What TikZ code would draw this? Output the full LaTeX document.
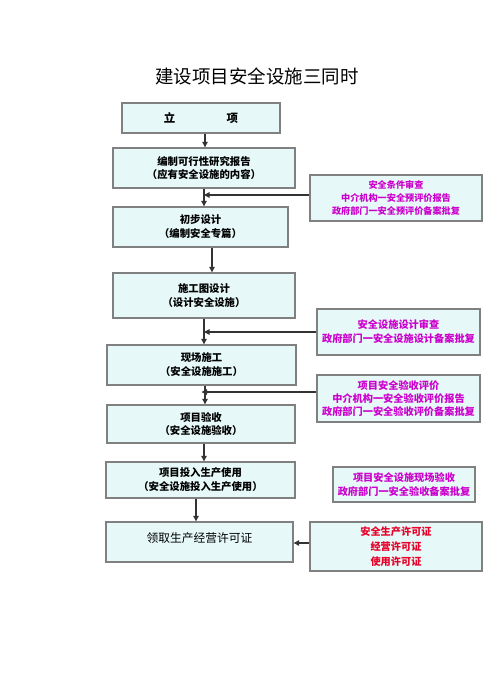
\documentclass[tikz,border=0pt]{standalone}
\usepackage{fontspec}
\setmainfont{Noto Sans CJK SC}
\usetikzlibrary{arrows.meta}

\definecolor{boxfill}{RGB}{230,248,248}
\definecolor{boxline}{RGB}{128,128,128}
\definecolor{notemag}{RGB}{204,0,204}
\definecolor{notered}{RGB}{232,0,40}

\begin{document}
\begin{tikzpicture}[x=0.02cm,y=-0.02cm,
    flowbox/.style={draw=boxline, fill=boxfill, line width=0.8pt, inner sep=0pt,
        align=center, font=\fontsize{5.9}{7.9}\selectfont\bfseries},
    notebox/.style={flowbox, text=notemag, font=\fontsize{5.2}{7.4}\selectfont\bfseries},
    flowarrow/.style={-{Triangle[length=1.1mm,width=1.1mm]}, line width=0.6pt, draw=black!80}]
    \useasboundingbox (0,0) rectangle (500,692);

    \node (title) at (257,76) {\fontsize{10.5}{12}\selectfont 建设项目安全设施三同时};

    % main steps
    \node [flowbox, minimum width=3.16cm, minimum height=0.6cm,
        font=\fontsize{6.5}{8}\selectfont\bfseries] (b1) at (201,118) {立\hspace{4.5em}项};
    \node [flowbox, minimum width=3.64cm, minimum height=0.8cm] (b2) at (204,168)
        {编制可行性研究报告\\（应有安全设施的内容）};
    \node [flowbox, minimum width=3.5cm, minimum height=0.8cm] (b3) at (200.5,227)
        {初步设计\\（编制安全专篇）};
    \node [flowbox, minimum width=3.64cm, minimum height=0.9cm] (b4) at (204,295.5)
        {施工图设计\\（设计安全设施）};
    \node [flowbox, minimum width=3.78cm, minimum height=0.8cm] (b5) at (201.5,365)
        {现场施工\\（安全设施施工）};
    \node [flowbox, minimum width=3.76cm, minimum height=0.76cm] (b6) at (201,424)
        {项目验收\\（安全设施验收）};
    \node [flowbox, minimum width=3.78cm, minimum height=0.72cm] (b7) at (200.5,480)
        {项目投入生产使用\\（安全设施投入生产使用）};
    \node [flowbox, minimum width=3.74cm, minimum height=0.8cm] (b8) at (199.5,542) {};
    \node [font=\fontsize{6.7}{8}\selectfont] (b8t) at (199.5,538) {领取生产经营许可证};

    % side notes
    \node [notebox, minimum width=3.44cm, minimum height=0.92cm] (nA) at (396,198)
        {安全条件审查\\中介机构一安全预评价报告\\政府部门一安全预评价备案批复};
    \node [notebox, minimum width=3.26cm, minimum height=0.92cm,
        font=\fontsize{5.8}{7.9}\selectfont\bfseries] (nB) at (398.5,332)
        {安全设施设计审查\\政府部门一安全设施设计备案批复};
    \node [notebox, minimum width=3.26cm, minimum height=0.94cm,
        font=\fontsize{5.8}{7.6}\selectfont\bfseries] (nC) at (398.5,398.5)
        {项目安全验收评价\\中介机构一安全验收评价报告\\政府部门一安全验收评价备案批复};
    \node [notebox, minimum width=2.84cm, minimum height=0.7cm,
        font=\fontsize{5.8}{7.9}\selectfont\bfseries] (nD) at (404,484.5)
        {项目安全设施现场验收\\政府部门一安全验收备案批复};
    \node [notebox, minimum width=3.44cm, minimum height=0.98cm, text=notered,
        font=\fontsize{5.8}{8.5}\selectfont\bfseries] (nE) at (396,546.5)
        {安全生产许可证\\经营许可证\\使用许可证};

    % connectors
    \draw [flowarrow] ([xshift=0.08cm]b1.south) -- ([xshift=0.08cm]b1.south |- b2.north);
    \draw [flowarrow] (b2.south) -- (b2.south |- b3.north);
    \draw [flowarrow] ([xshift=0.23cm]b3.south) -- ([xshift=0.23cm]b3.south |- b4.north);
    \draw [flowarrow] (b4.south) -- (b4.south |- b5.north);
    \draw [flowarrow] ([xshift=0.07cm]b5.south) -- ([xshift=0.07cm]b5.south |- b6.north);
    \draw [flowarrow] ([xshift=0.06cm]b6.south) -- ([xshift=0.06cm]b6.south |- b7.north);
    \draw [flowarrow] ([xshift=-0.09cm]b7.south) -- ([xshift=-0.09cm]b7.south |- b8.north);

    \draw [flowarrow] ([yshift=0.06cm]nA.west) -- ([yshift=0.06cm]nA.west -| b2.south);
    \draw [flowarrow] (nB.west) -- (nB.west -| b4.south);
    \draw [flowarrow] ([yshift=0.13cm]nC.west) -- ([yshift=0.13cm]nC.west -| b5.south);
    \draw [flowarrow] ([yshift=0.07cm]nE.west) -- ([yshift=0.07cm]nE.west -| b8.east);
\end{tikzpicture}
\end{document}
